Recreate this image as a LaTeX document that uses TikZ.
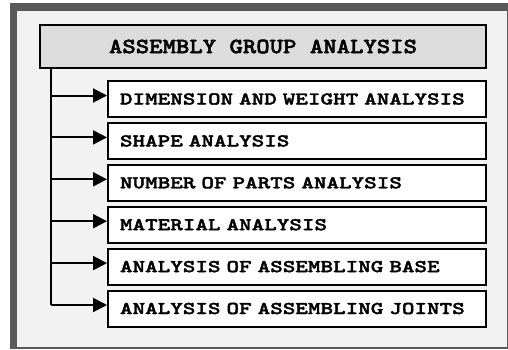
\documentclass[tikz,border=0pt]{standalone}
\usepackage{fontspec}
\newfontfamily\headfont[FakeStretch=1.17, FakeBold=2]{lmmonolt10-bold.otf}
\newfontfamily\boxfont[FakeStretch=1.33, FakeBold=2]{lmmonolt10-bold.otf}
\usepackage{tikz}
\usetikzlibrary{arrows.meta}
\definecolor{framegray}{HTML}{595959}
\definecolor{panelgray}{HTML}{F2F2F2}
\definecolor{headgray}{HTML}{DCDCDC}
\tikzstyle{groupbox} = [rectangle, draw=black, line width=2pt, fill=headgray, minimum width=446pt, minimum height=43pt, text centered, font=\headfont\fontsize{21.8pt}{25pt}\selectfont]
\tikzstyle{analysis} = [rectangle, draw=black, line width=2pt, fill=white, minimum width=378pt, minimum height=36pt, inner xsep=12pt, text width=354pt, align=left, anchor=west, font=\boxfont\fontsize{18pt}{21pt}\selectfont]
\tikzstyle{arrow} = [line width=2pt, -{Triangle[length=14pt,width=14pt]}]

\begin{document}
\begin{tikzpicture}[x=1pt, y=-1pt, node distance=41.9pt]
    \useasboundingbox (0,0) rectangle (508,349);
    % frame
    \fill [framegray] (10,3) rectangle (508,349);
    \fill [panelgray] (17,11) rectangle (506.5,347);

    \node (group) [groupbox] at (263,46.5) {ASSEMBLY GROUP ANALYSIS};
    \node (dim) [analysis] at (107,99) {DIMENSION AND WEIGHT ANALYSIS};
    \node (shape) [analysis, below of=dim] {SHAPE ANALYSIS};
    \node (parts) [analysis, below of=shape] {NUMBER OF PARTS ANALYSIS};
    \node (material) [analysis, below of=parts] {MATERIAL ANALYSIS};
    \node (base) [analysis, below of=material] {ANALYSIS OF ASSEMBLING BASE};
    \node (joints) [analysis, below of=base] {ANALYSIS OF ASSEMBLING JOINTS};

    \coordinate (trunk) at ([xshift=12pt]group.south west);
    \draw [line width=2pt] (trunk) -- ([yshift=3.5pt]trunk |- joints.west);

    \draw [arrow] ([yshift=3.5pt]trunk |- dim.west) -- ([yshift=3.5pt]dim.west);
    \draw [arrow] ([yshift=3.5pt]trunk |- shape.west) -- ([yshift=3.5pt]shape.west);
    \draw [arrow] ([yshift=3.5pt]trunk |- parts.west) -- ([yshift=3.5pt]parts.west);
    \draw [arrow] ([yshift=3.5pt]trunk |- material.west) -- ([yshift=3.5pt]material.west);
    \draw [arrow] ([yshift=3.5pt]trunk |- base.west) -- ([yshift=3.5pt]base.west);
    \draw [arrow] ([yshift=3.5pt]trunk |- joints.west) -- ([yshift=3.5pt]joints.west);

\end{tikzpicture}
\end{document}
